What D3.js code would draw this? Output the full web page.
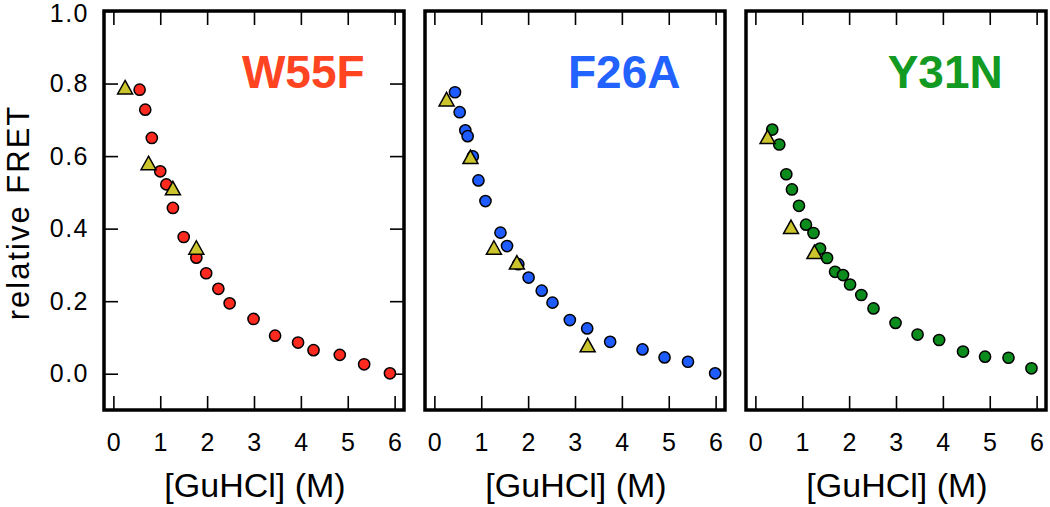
<!DOCTYPE html>
<html>
<head>
<meta charset="utf-8">
<script src="https://cdn.jsdelivr.net/npm/d3@7"></script>
<style>
  html, body { margin: 0; padding: 0; background: #fff; }
  svg { display: block; font-family: "Liberation Sans", Arial, Helvetica, sans-serif; }
</style>
</head>
<body>
<svg id="chart" width="1050" height="507"></svg>
<script>
// ---------- data ----------
const panelNames = ["W55F", "F26A", "Y31N"];
const panelColors = ["#ff2a1f", "#1f5cff", "#0b8c1c"];
const labelColors = ["#ff4422", "#2262ff", "#129a22"];
const triColor = "#cbc42c";

const w55fX = [0.56, 0.68, 0.82, 1.00, 1.13, 1.27, 1.50, 1.77, 1.98, 2.24, 2.48, 2.99, 3.45, 3.94, 4.27, 4.83, 5.35, 5.90];
const w55fY = [0.783, 0.728, 0.650, 0.558, 0.522, 0.457, 0.377, 0.320, 0.277, 0.234, 0.194, 0.151, 0.105, 0.086, 0.065, 0.052, 0.026, 0.001];
const w55fTriX = [0.25, 0.75, 1.27, 1.77];
const w55fTriY = [0.790, 0.581, 0.512, 0.348];

const f26aX = [0.44, 0.54, 0.66, 0.71, 0.82, 0.94, 1.09, 1.41, 1.55, 1.79, 2.01, 2.29, 2.52, 2.89, 3.26, 3.75, 4.44, 4.91, 5.41, 5.99];
const f26aY = [0.776, 0.721, 0.671, 0.655, 0.599, 0.533, 0.476, 0.389, 0.352, 0.302, 0.265, 0.229, 0.196, 0.148, 0.125, 0.088, 0.067, 0.045, 0.033, 0.001];
const f26aTriX = [0.26, 0.77, 1.27, 1.76, 3.27];
const f26aTriY = [0.757, 0.598, 0.348, 0.307, 0.079];

const y31nX = [0.36, 0.51, 0.66, 0.78, 0.93, 1.08, 1.24, 1.38, 1.53, 1.70, 1.87, 2.02, 2.26, 2.52, 2.99, 3.46, 3.92, 4.43, 4.90, 5.40, 5.89];
const y31nY = [0.673, 0.632, 0.550, 0.508, 0.463, 0.411, 0.388, 0.345, 0.319, 0.281, 0.272, 0.246, 0.217, 0.180, 0.140, 0.108, 0.093, 0.061, 0.047, 0.044, 0.015];
const y31nTriX = [0.26, 0.76, 1.26];
const y31nTriY = [0.653, 0.405, 0.336];

const xTicks = [0, 1, 2, 3, 4, 5, 6];
const yTicks = [0.0, 0.2, 0.4, 0.6, 0.8, 1.0];
const xDomain = [-0.2, 6.2];
const yDomain = [-0.1, 1.0];
const xTitle = "[GuHCl] (M)";
const yTitle = "relative FRET";

// ---------- layout ----------
const panelLefts = [104, 425, 746];
const panelW = 300;
const plotTop = 11, plotBottom = 410;

const circleSets = [[w55fX, w55fY], [f26aX, f26aY], [y31nX, y31nY]];
const triSets = [[w55fTriX, w55fTriY], [f26aTriX, f26aTriY], [y31nTriX, y31nTriY]];

const svg = d3.select("#chart");
const y = d3.scaleLinear().domain(yDomain).range([plotBottom, plotTop]);
const tickLen = 14;

function triPath(s, h) {
  return `M0,${-h/2}L${s/2},${h/2}L${-s/2},${h/2}Z`;
}

panelNames.forEach((name, i) => {
  const x0 = panelLefts[i];
  const x = d3.scaleLinear().domain(xDomain).range([x0, x0 + panelW]);
  const g = svg.append("g");

  const bAx = g.append("g").attr("transform", `translate(0,${plotBottom})`)
    .call(d3.axisBottom(x).tickValues(xTicks).tickSize(-tickLen).tickPadding(23).tickFormat(d3.format("d")));
  const tAx = g.append("g").attr("transform", `translate(0,${plotTop})`)
    .call(d3.axisTop(x).tickValues(xTicks).tickSize(-tickLen).tickFormat(""));
  [bAx, tAx].forEach(a => {
    a.select(".domain").remove();
    a.selectAll(".tick line").attr("stroke", "#000").attr("stroke-width", 1.6);
  });
  bAx.selectAll("text").attr("font-size", 25).attr("fill", "#000").style("letter-spacing", "0.5px");

  if (i === 0) {
    const lAx = g.append("g").attr("transform", `translate(${x0},0)`)
      .call(d3.axisLeft(y).tickValues(yTicks).tickSize(-tickLen).tickPadding(15).tickFormat(d3.format(".1f")));
    const rAx = g.append("g").attr("transform", `translate(${x0 + panelW},0)`)
      .call(d3.axisRight(y).tickValues(yTicks).tickSize(-tickLen).tickFormat(""));
    [lAx, rAx].forEach(a => {
      a.select(".domain").remove();
      a.selectAll(".tick line").attr("stroke", "#000").attr("stroke-width", 1.6);
    });
    lAx.selectAll("text").attr("font-size", 25).attr("fill", "#000").style("letter-spacing", "1.5px");
    lAx.selectAll(".tick").filter(d => d === 1.0).select("text").attr("dy", "0.4em");

    g.append("text")
      .attr("transform", `translate(29,${(plotTop + plotBottom) / 2 + 2}) rotate(-90)`)
      .attr("text-anchor", "middle")
      .attr("font-size", 31)
      .style("letter-spacing", "2px")
      .attr("fill", "#000")
      .text(yTitle);
  }

  g.append("rect")
    .attr("x", x0).attr("y", plotTop)
    .attr("width", panelW).attr("height", plotBottom - plotTop)
    .attr("fill", "none").attr("stroke", "#000").attr("stroke-width", 3.5);

  g.append("text")
    .attr("x", x0 + panelW / 2 + 1)
    .attr("y", 497)
    .attr("text-anchor", "middle")
    .attr("font-size", 34)
    .attr("fill", "#000")
    .text(xTitle);

  g.append("text")
    .attr("x", x(4.05))
    .attr("y", y(0.787))
    .attr("text-anchor", "middle")
    .attr("font-size", 46)
    .attr("font-weight", "bold")
    .attr("fill", labelColors[i])
    .text(name);

  const [cx, cy] = circleSets[i];
  g.append("g").selectAll("circle")
    .data(cx.map((v, k) => [v, cy[k]]))
    .join("circle")
    .attr("cx", d => x(d[0]))
    .attr("cy", d => y(d[1]))
    .attr("r", 5.6)
    .attr("fill", panelColors[i])
    .attr("stroke", "#000")
    .attr("stroke-width", 1.5);

  const [tx, ty] = triSets[i];
  g.append("g").selectAll("path")
    .data(tx.map((v, k) => [v, ty[k]]))
    .join("path")
    .attr("d", triPath(15, 13.5))
    .attr("transform", d => `translate(${x(d[0])},${y(d[1])})`)
    .attr("fill", triColor)
    .attr("stroke", "#000")
    .attr("stroke-width", 1.5)
    .attr("stroke-linejoin", "miter");
});
</script>
</body>
</html>
